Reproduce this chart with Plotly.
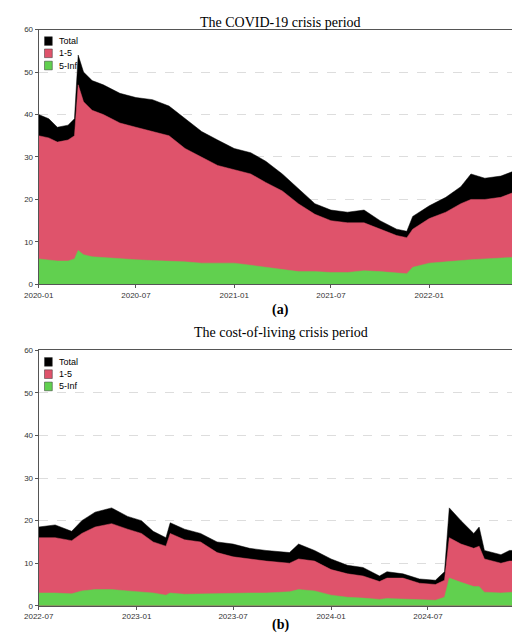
import plotly.graph_objects as go

# Panel (a): COVID-19 crisis period
dates_a = ["2020-01-01","2020-01-20","2020-02-05","2020-02-25","2020-03-08","2020-03-15","2020-03-25",
           "2020-04-10","2020-05-01","2020-06-01","2020-07-01","2020-08-01","2020-09-01","2020-10-01",
           "2020-11-01","2020-12-01","2021-01-01","2021-02-01","2021-03-01","2021-04-01","2021-05-01",
           "2021-06-01","2021-07-01","2021-08-01","2021-09-01","2021-10-01","2021-11-01","2021-11-20",
           "2021-12-01","2022-01-01","2022-02-01","2022-03-01","2022-03-20","2022-04-15","2022-05-15",
           "2022-06-15","2022-07-01"]
total_a = [40,39,37,37.5,39,54,50,48,47,45,44,43.5,42,39,36,34,32,31,29,26,22.5,19,17.5,17,17.5,15,13,12.5,
           16,18.5,20.5,23,26,25,25.5,27,28]
mid_a = [35,34.5,33.5,34,35,47,43,41,40,38,37,36,35,32,30,28,27,26,24,22,19,16.5,15,14.5,14.5,13,11.5,11,
         13,15.5,17,19,20,20,20.5,22,22.5]
low_a = [6,5.8,5.5,5.5,6,8,7,6.5,6.3,6,5.8,5.6,5.5,5.3,5,5,5,4.5,4,3.5,3,3,2.8,2.8,3.2,3,2.8,2.5,
         4,5,5.3,5.5,5.8,6,6.2,6.5,6.5]

# Panel (b): cost-of-living crisis period
dates_b = ["2022-07-01","2022-08-01","2022-09-01","2022-09-20","2022-10-15","2022-11-15","2022-12-15",
           "2023-01-10","2023-02-01","2023-02-25","2023-03-05","2023-04-01","2023-05-01","2023-06-01",
           "2023-07-01","2023-08-01","2023-09-01","2023-10-15","2023-11-01","2023-12-01","2024-01-01",
           "2024-02-01","2024-03-01","2024-04-01","2024-04-15","2024-05-15","2024-06-15","2024-07-15",
           "2024-08-01","2024-08-10","2024-09-01","2024-09-25","2024-10-05","2024-10-15","2024-11-15",
           "2024-12-01","2024-12-20","2025-01-01"]
total_b = [18.5,19,17.5,20,22,23,21,20,17.5,16,19.5,18,17,15,14.5,13.5,13,12.5,14.5,13,11,9.5,9,7,8,7.5,
           6.3,6,8,23,20,17,18.5,13,12,13,13,11.5]
mid_b = [16,16,15.3,17,18.5,19.3,18,17,15,14,17,15.5,15,12.5,11.5,11,10.5,10,11,10.5,8.5,7.5,7,5.7,6.5,
         6.5,5.3,5,6,16,14.5,13.5,14,11,10,10.5,10.5,9]
low_b = [3,3,2.8,3.5,3.8,3.8,3.5,3.3,3,2.5,3,2.7,2.8,2.8,3,3,3,3.3,3.8,3.5,2.5,2,1.8,1.5,1.7,1.6,1.4,1.3,
         2,6.5,5.5,4.5,4.5,3.2,3,3.2,3.3,3]

names = ["Total", "1-5", "5-Inf"]
colors = ["#000000", "#DF536B", "#61D04F"]
yticks = [0, 10, 20, 30, 40, 50, 60]

fig = go.Figure()
panels = [(dates_a, [total_a, mid_a, low_a], "x", "y"),
          (dates_b, [total_b, mid_b, low_b], "x2", "y2")]
for dates, series, xa, ya in panels:
    for name, col, vals in zip(names, colors, series):
        fig.add_trace(go.Scatter(x=dates, y=vals, name=name, mode="lines", fill="tozeroy",
                                 fillcolor=col, line=dict(width=0.5, color=col),
                                 xaxis=xa, yaxis=ya, showlegend=False))

axis_common = dict(showline=True, linecolor="#555555", mirror=True, ticks="outside", ticklen=3,
                   tickcolor="#555555", tickfont=dict(family="Liberation Sans", size=8, color="#333333"))
fig.update_layout(
    width=520, height=638, margin=dict(l=0, r=0, t=0, b=0),
    plot_bgcolor="white", paper_bgcolor="white", showlegend=False,
    xaxis=dict(domain=[0.031, 0.996], range=["2020-01-01", "2022-07-01"], tickformat="%Y-%m",
               tickvals=["2020-01-01","2020-07-01","2021-01-01","2021-07-01","2022-01-01"],
               showgrid=False, anchor="y", **axis_common),
    yaxis=dict(domain=[0.567, 0.972], range=[0, 60], tickvals=yticks, showgrid=True,
               gridcolor="#dddddd", griddash="dash", zeroline=False, anchor="x", **axis_common),
    xaxis2=dict(domain=[0.031, 0.996], range=["2022-07-01", "2025-01-01"], tickformat="%Y-%m",
                tickvals=["2022-07-01","2023-01-01","2023-07-01","2024-01-01","2024-07-01"],
                showgrid=False, anchor="y2", **axis_common),
    yaxis2=dict(domain=[0.056, 0.462], range=[0, 60], tickvals=yticks, showgrid=True,
                gridcolor="#dddddd", griddash="dash", zeroline=False, anchor="x2", **axis_common),
)

serif = dict(family="Liberation Serif", size=14, color="black")
for text, yp in [("The COVID-19 crisis period", 0.984), ("<b>(a)</b>", 0.527),
                 ("The cost-of-living crisis period", 0.49), ("<b>(b)</b>", 0.025)]:
    fig.add_annotation(text=text, x=0.51, y=yp, xref="paper", yref="paper",
                       xanchor="center", yanchor="middle", showarrow=False, font=serif)

# legends
for xr, yr in [("x domain", "y domain"), ("x2 domain", "y2 domain")]:
    for i, (name, col) in enumerate(zip(names, colors)):
        yy = 0.955 - i * 0.048
        fig.add_shape(type="rect", xref=xr, yref=yr, x0=0.012, x1=0.028, y0=yy - 0.017, y1=yy + 0.017,
                      fillcolor=col, line=dict(color="#333333", width=0.5))
        fig.add_annotation(text=name, xref=xr, yref=yr, x=0.038, y=yy, xanchor="left",
                           yanchor="middle", showarrow=False,
                           font=dict(family="Liberation Sans", size=9, color="black"))

fig.write_html("out.html")
